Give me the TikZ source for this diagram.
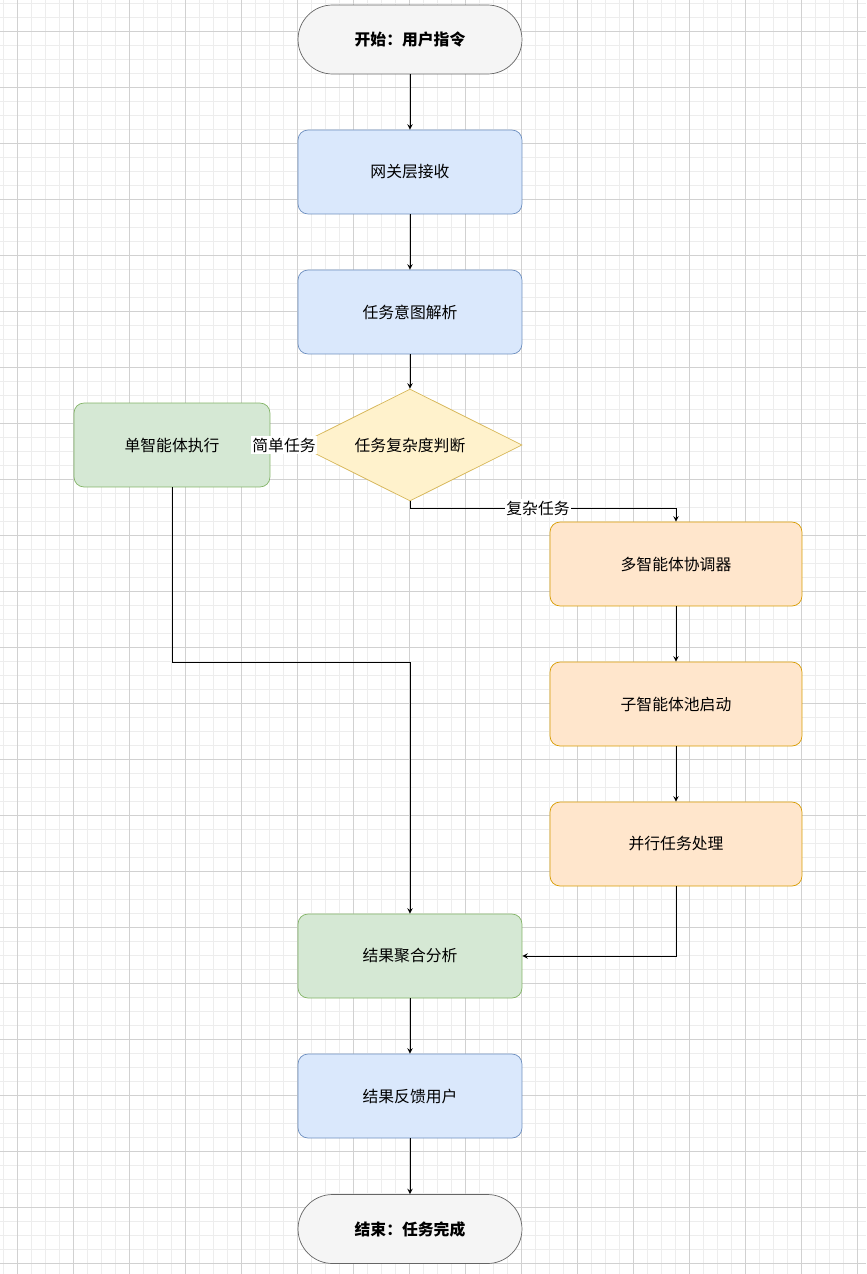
\documentclass[tikz,border=0pt]{standalone}
\usepackage{fontspec}
\setmainfont{Noto Sans CJK SC}
\usepackage{tikz}
\usetikzlibrary{shapes.geometric, arrows}
\definecolor{bluefill}{HTML}{DAE8FC}
\definecolor{bluedraw}{HTML}{6C8EBF}
\definecolor{greenfill}{HTML}{D5E8D4}
\definecolor{greendraw}{HTML}{82B366}
\definecolor{orangefill}{HTML}{FFE6CC}
\definecolor{orangedraw}{HTML}{D79B00}
\definecolor{yellowfill}{HTML}{FFF2CC}
\definecolor{yellowdraw}{HTML}{D6B656}
\definecolor{greyfill}{HTML}{F5F5F5}
\definecolor{greydraw}{HTML}{666666}
\tikzset{
  terminal/.style={
    rectangle,
    rounded corners=0.69cm,
    minimum width=4.48cm,
    minimum height=1.38cm,
    align=center,
    draw=greydraw,
    fill=greyfill,
    font=\fontsize{9}{11}\selectfont\bfseries
    },
  stage/.style={
    rectangle,
    rounded corners=0.2cm,
    minimum width=4.48cm,
    minimum height=1.68cm,
    align=center,
    draw=bluedraw,
    fill=bluefill,
    font=\fontsize{9}{11}\selectfont
    },
  single/.style={stage, draw=greendraw, fill=greenfill},
  multi/.style={stage, minimum width=5.04cm, draw=orangedraw, fill=orangefill},
  check/.style={
    diamond,
    aspect=2,
    inner sep=0pt,
    minimum width=4.48cm,
    minimum height=2.24cm,
    align=center,
    draw=yellowdraw,
    fill=yellowfill,
    font=\fontsize{9}{11}\selectfont
    },
  tag/.style={fill=white, inner sep=1pt, font=\fontsize{9}{11}\selectfont},
  arrow/.style={thin,->,>=stealth}
}
\begin{document}
\begin{tikzpicture}[x=0.02cm, y=-0.02cm]
\useasboundingbox (0,0) rectangle (866,1274);
% grid
\foreach \g in {3.5,17.5,...,866} \draw[black!7] (\g,0) -- (\g,1274);
\foreach \g in {3,17,...,1274} \draw[black!7] (0,\g) -- (866,\g);
\foreach \g in {17.5,73.5,...,866} \draw[black!18] (\g,0) -- (\g,1274);
\foreach \g in {31,87,...,1274} \draw[black!18] (0,\g) -- (866,\g);
% nodes
\node (start) [terminal] at (410,39.5) {开始：用户指令};
\node (gateway) [stage] at (410,172) {网关层接收};
\node (parse) [stage] at (410,312) {任务意图解析};
\node (judge) [check] at (410,445) {任务复杂度判断};
\node (solo) [single, minimum width=3.92cm] at (172,445) {单智能体执行};
\node (coord) [multi] at (676,564) {多智能体协调器};
\node (pool) [multi] at (676,704) {子智能体池启动};
\node (para) [multi] at (676,844) {并行任务处理};
\node (merge) [single] at (410,956) {结果聚合分析};
\node (reply) [stage] at (410,1096) {结果反馈用户};
\node (stop) [terminal] at (410,1229) {结束：任务完成};
\coordinate (bend) at (676,508);
% edges
\draw[arrow] (start) -- (gateway);
\draw[arrow] (gateway) -- (parse);
\draw[arrow] (parse) -- (judge);
\draw[arrow] (judge) -- (solo);
\node[tag] at (284,445) {简单任务};
\draw[arrow] (judge.south) |- (bend) -- (coord.north);
\node[tag] at (538,508) {复杂任务};
\draw[arrow] (solo.south) |- (410,662) -- (merge.north);
\draw[arrow] (coord) -- (pool);
\draw[arrow] (pool) -- (para);
\draw[arrow] (para.south) |- (merge.east);
\draw[arrow] (merge) -- (reply);
\draw[arrow] (reply) -- (stop);
\end{tikzpicture}
\end{document}
